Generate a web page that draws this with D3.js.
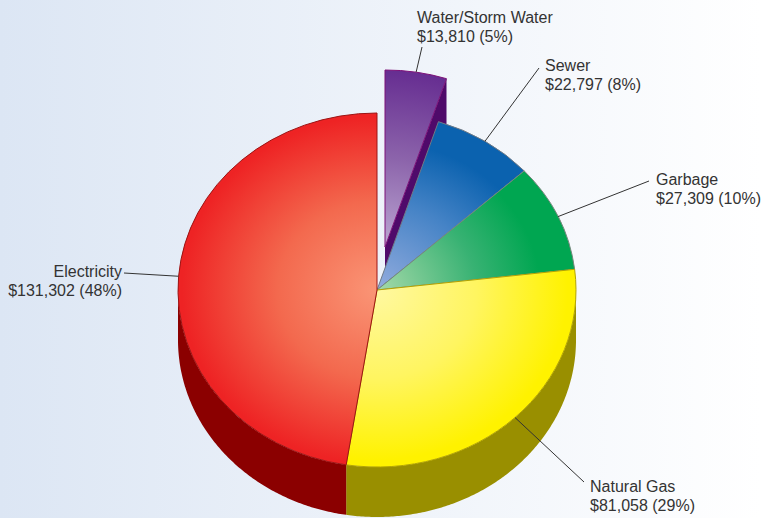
<!DOCTYPE html>
<html>
<head>
<meta charset="utf-8">
<script src="https://cdn.jsdelivr.net/npm/d3@7"></script>
<style>
    html, body { margin: 0; padding: 0; background: #fff; }
    svg { display: block; }
    text { font-family: "Liberation Sans", Arial, sans-serif; font-size: 16px; fill: #333; }
</style>
</head>
<body>
<svg id="chart" width="761" height="518"></svg>
<script>
const categories = ["Water/Storm Water", "Sewer", "Garbage", "Natural Gas", "Electricity"];
const amounts = [13810, 22797, 27309, 81058, 131302];

const innerColors = ["#bba6d2", "#93acde", "#a5d9a9", "#fff8a0", "#fa9576"];
const midColors = ["#8c64ab", "#4583c6", "#38b273", "#fff560", "#f3694e"];
const outerColors = ["#662d91", "#0b62af", "#00a651", "#fff200", "#ee2324"];
const outerStops = ["100%", "84%", "82%", "96%", "98%"];
const strokeColors = ["#7d1178", "#6f7a86", "#75887c", "#b3a400", "#9c1414"];
const wallColors = ["#4f0a6a", "#0a4a85", "#007a3c", "#998f00", "#8b0000"];

// leader ends + text anchors, by hand from the picture
const labelLayout = [
    { ex: 422, ey: 47, tx: 417, ty: 23, anchor: "start" },
    { ex: 539, ey: 68, tx: 545, ty: 71, anchor: "start" },
    { ex: 649, ey: 181, tx: 656, ty: 185, anchor: "start" },
    { ex: 584, ey: 482, tx: 590, ty: 492, anchor: "start" },
    { ex: 124, ey: 273, tx: 122, ty: 277, anchor: "end" }
];
const lineHeight = 19;

const w = 761, h = 518;
const cx = 377, cy = 290, rx = 199, ry = 177, depth = 50;
const explode = { dx: 8, dy: -43 };   // only the water slice is pulled out

const svg = d3.select("#chart");
const defs = svg.append("defs");

const bg = defs.append("linearGradient").attr("id", "bg");
bg.append("stop").attr("offset", "0%").attr("stop-color", "#dce6f4");
bg.append("stop").attr("offset", "100%").attr("stop-color", "#ffffff");
svg.append("rect").attr("width", w).attr("height", h).attr("fill", "url(#bg)");

const total = d3.sum(amounts);
const slices = d3.pie().sort(null).value(d => d.value)(
    categories.map((name, i) => ({ name, value: amounts[i], i }))
);

slices.forEach(s => {
    const i = s.data.i;
    const grad = defs.append("radialGradient").attr("id", `slice-${i}`)
        .attr("gradientUnits", "userSpaceOnUse").attr("cx", 0).attr("cy", 0).attr("r", rx);
    grad.append("stop").attr("offset", "0%").attr("stop-color", innerColors[i]);
    grad.append("stop").attr("offset", "50%").attr("stop-color", midColors[i]);
    grad.append("stop").attr("offset", outerStops[i]).attr("stop-color", outerColors[i]);
});

const arc = d3.arc().innerRadius(0).outerRadius(rx);
const offset = s => s.data.i === 0 ? explode : { dx: 0, dy: 0 };
const px = (s, a) => cx + offset(s).dx + rx * Math.sin(a);
const py = (s, a) => cy + offset(s).dy - ry * Math.cos(a);

// side walls: outer rim (front half only) and the cut face of the exploded slice
function drawWall(s) {
    const a0 = Math.max(s.startAngle, Math.PI / 2), a1 = Math.min(s.endAngle, Math.PI * 1.5);
    if (a1 > a0) {
        const steps = d3.range(a0, a1, 0.01).concat([a1]);
        svg.append("path").datum(steps)
            .attr("fill", wallColors[s.data.i])
            .attr("d", d3.area().x(a => px(s, a)).y0(a => py(s, a)).y1(a => py(s, a) + depth));
    }
}

function drawTop(s) {
    const o = offset(s);
    svg.append("g").attr("transform", `translate(${cx + o.dx},${cy + o.dy}) scale(1,${ry / rx})`)
        .append("path")
        .attr("d", arc(s))
        .attr("fill", `url(#slice-${s.data.i})`)
        .attr("stroke", strokeColors[s.data.i])
        .attr("stroke-width", 1)
        .attr("vector-effect", "non-scaling-stroke")
        .attr("stroke-linejoin", "round");
}

// water first so the rest of the pie sits over it
const water = slices[0];
const ox = cx + explode.dx, oy = cy + explode.dy;
svg.append("polygon")
    .attr("points", [
        [ox, oy], [px(water, water.endAngle), py(water, water.endAngle)],
        [px(water, water.endAngle), py(water, water.endAngle) + depth], [ox, oy + depth]
    ].join(" "))
    .attr("fill", wallColors[0]);
drawTop(water);

slices.slice(1).forEach(drawWall);
slices.slice(1).forEach(drawTop);

// leaders and labels
slices.forEach(s => {
    const l = labelLayout[s.data.i];
    const mid = (s.startAngle + s.endAngle) / 2;
    svg.append("line")
        .attr("x1", px(s, mid)).attr("y1", py(s, mid))
        .attr("x2", l.ex).attr("y2", l.ey)
        .attr("stroke", "#333").attr("stroke-width", 1);

    const t = svg.append("text").attr("text-anchor", l.anchor);
    t.append("tspan").attr("x", l.tx).attr("y", l.ty).text(s.data.name);
    t.append("tspan").attr("x", l.tx).attr("y", l.ty + lineHeight)
        .text(`$${d3.format(",")(s.data.value)} (${Math.round(s.data.value / total * 100)}%)`);
});
</script>
</body>
</html>
